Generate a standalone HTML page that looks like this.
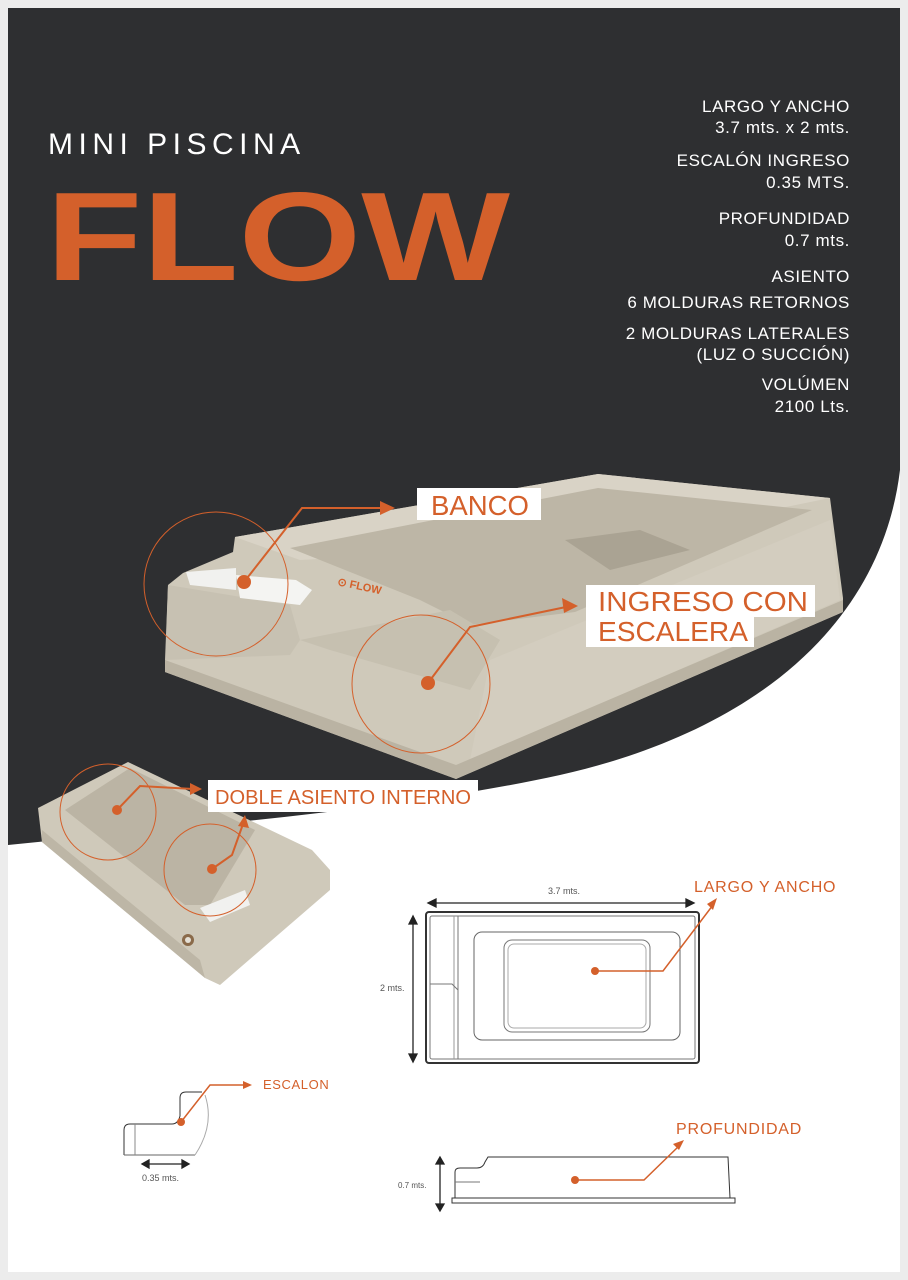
<!DOCTYPE html>
<html><head><meta charset="utf-8"><style>
html,body{margin:0;padding:0;background:#ededed;}
svg{display:block;}
text{font-family:"Liberation Sans",sans-serif;}
</style></head><body>
<svg width="908" height="1280" viewBox="0 0 908 1280" xmlns="http://www.w3.org/2000/svg">
<rect x="0" y="0" width="908" height="1280" fill="#ececec"/>
<rect x="8" y="8" width="892" height="1264" fill="#ffffff"/>
<path d="M8,8 H900 V470 C882,620 760,730 560,775 C400,810 200,825 8,845 Z" fill="#2e2f31"/>

<!-- Title -->
<text x="48" y="154" fill="#ffffff" font-size="30" letter-spacing="5.5">MINI PISCINA</text>
<text x="46" y="280" fill="#d4602b" font-size="140" font-weight="bold" textLength="464" lengthAdjust="spacingAndGlyphs" transform="translate(0 280) scale(1 0.9) translate(0 -280)">FLOW</text>

<!-- Specs -->
<g fill="#ffffff" font-size="17" text-anchor="end" letter-spacing="0.6">
<text x="850" y="112">LARGO Y ANCHO</text>
<text x="850" y="133">3.7 mts. x 2 mts.</text>
<text x="850" y="166">ESCALÓN INGRESO</text>
<text x="850" y="188">0.35 MTS.</text>
<text x="850" y="224">PROFUNDIDAD</text>
<text x="850" y="246">0.7 mts.</text>
<text x="850" y="282">ASIENTO</text>
<text x="850" y="308">6 MOLDURAS RETORNOS</text>
<text x="850" y="339">2 MOLDURAS LATERALES</text>
<text x="850" y="360">(LUZ O SUCCIÓN)</text>
<text x="850" y="390">VOLÚMEN</text>
<text x="850" y="412">2100 Lts.</text>
</g>

<!-- Main pool -->
<polygon points="235,537 598,474 830,498 843,598 843,612 456,779 165,672 168,585 183,573 233,552" fill="#cfc9ba"/>
<polygon points="235,537 598,474 830,498 600,545 300,560" fill="#d9d3c6"/>
<polygon points="290,548 598,488 812,510 575,612 470,625 420,600" fill="#bdb6a6"/>
<polygon points="565,540 640,530 690,550 610,570" fill="#aaa393"/>
<polygon points="490,660 830,520 840,600 470,760" fill="#d3cdbf"/>
<polygon points="300,640 450,610 500,640 470,690 330,650" fill="#c6c0b0"/>
<polygon points="165,660 456,765 843,600 843,612 456,779 165,672" fill="#bab3a3"/>
<polygon points="168,585 290,605 300,640 290,655 165,660" fill="#c7c1b2"/>
<polygon points="186,572 236,568 236,590 190,585" fill="#f1f1ef"/>
<polygon points="236,575 296,580 312,590 300,605 240,598" fill="#f4f4f2"/>
<text x="337" y="585" fill="#d4602b" font-size="11" font-weight="bold" transform="rotate(12 337 585)">⊙ FLOW</text>
<circle cx="216" cy="584" r="72" fill="none" stroke="#d4602b" stroke-width="1"/>
<circle cx="421" cy="684" r="69" fill="none" stroke="#d4602b" stroke-width="1"/>
<g stroke="#d4602b" stroke-width="2" fill="none">
<polyline points="244,582 302,508 383,508"/>
<polyline points="428,683 470,627 566,607"/>
</g>
<g fill="#d4602b">
<circle cx="244" cy="582" r="7"/><circle cx="428" cy="683" r="7"/>
<polygon points="395,508 380,501 380,515"/>
<polygon points="578,606 562,598 564,613"/>
</g>
<rect x="417" y="488" width="124" height="32" fill="#fff"/>
<text x="431" y="515" fill="#d4602b" font-size="28" textLength="98" lengthAdjust="spacingAndGlyphs">BANCO</text>
<rect x="586" y="585" width="229" height="32" fill="#fff"/>
<rect x="586" y="615" width="168" height="32" fill="#fff"/>
<text x="598" y="611" fill="#d4602b" font-size="28" textLength="210" lengthAdjust="spacingAndGlyphs">INGRESO CON</text>
<text x="598" y="641" fill="#d4602b" font-size="28" textLength="150" lengthAdjust="spacingAndGlyphs">ESCALERA</text>

<!-- Small pool -->
<polygon points="38,808 128,762 312,850 330,870 330,890 220,985 205,978 42,842" fill="#cfc9ba"/>
<polygon points="65,810 130,768 255,830 210,905 185,905" fill="#bbb4a4"/>
<polygon points="42,830 200,960 205,978 42,842" fill="#bdb6a6"/>
<polygon points="200,908 245,890 250,905 210,922" fill="#f1f1ef"/>
<circle cx="188" cy="940" r="6" fill="#8a6a4a"/><circle cx="188" cy="940" r="3" fill="#e5e0d6"/>
<circle cx="108" cy="812" r="48" fill="none" stroke="#d4602b" stroke-width="1"/>
<circle cx="210" cy="870" r="46" fill="none" stroke="#d4602b" stroke-width="1"/>
<g stroke="#d4602b" stroke-width="2" fill="none">
<polyline points="117,810 140,786 193,789"/>
<polyline points="212,869 232,855 243,824"/>
</g>
<g fill="#d4602b">
<circle cx="117" cy="810" r="5"/><circle cx="212" cy="869" r="5"/>
<polygon points="202,789 190,783 190,795"/>
<polygon points="245,815 238,826 249,828"/>
</g>
<rect x="208" y="780" width="270" height="32" fill="#fff"/>
<text x="215" y="804" fill="#d4602b" font-size="20" textLength="256" lengthAdjust="spacingAndGlyphs">DOBLE ASIENTO INTERNO</text>

<!-- Top view drawing -->
<g stroke="#333" fill="none" stroke-width="1">
<rect x="426" y="912" width="273" height="151" rx="3" stroke-width="2"/>
<rect x="430" y="916" width="265" height="143" rx="2" stroke="#777"/>
<line x1="458" y1="916" x2="458" y2="1059" stroke="#777"/>
<line x1="454" y1="916" x2="454" y2="1059" stroke="#999"/>
<path d="M430,984 H452 L458,990" stroke="#777"/>
<rect x="474" y="932" width="206" height="108" rx="8" stroke="#666"/>
<rect x="504" y="940" width="146" height="92" rx="8" stroke="#777"/>
<rect x="508" y="944" width="138" height="84" rx="6" stroke="#aaa"/>
</g>
<g stroke="#222" stroke-width="1.3" fill="#222">
<line x1="430" y1="903" x2="692" y2="903"/>
<polygon points="428,903 436,899 436,907"/><polygon points="694,903 686,899 686,907"/>
<line x1="413" y1="918" x2="413" y2="1060"/>
<polygon points="413,916 409,924 417,924"/><polygon points="413,1062 409,1054 417,1054"/>
</g>
<text x="548" y="894" fill="#555" font-size="9">3.7 mts.</text>
<text x="380" y="991" fill="#555" font-size="9">2 mts.</text>
<g stroke="#d4602b" stroke-width="1.5" fill="none"><polyline points="595,971 663,971 713,905"/></g>
<circle cx="595" cy="971" r="4" fill="#d4602b"/>
<polygon points="717,898 707,904 713,910" fill="#d4602b"/>
<text x="694" y="892" fill="#d4602b" font-size="16" letter-spacing="0.8">LARGO Y ANCHO</text>

<!-- Side view -->
<g stroke="#333" fill="none" stroke-width="1">
<path d="M452,1203 V1198 H735 V1203 Z"/>
<path d="M455,1198 V1172 Q455,1168 460,1168 H477 Q483,1168 485,1162 L488,1157 H728 L730,1198"/>
<line x1="455" y1="1182" x2="480" y2="1182" stroke="#777"/>
</g>
<g stroke="#222" stroke-width="1.3" fill="#222">
<line x1="440" y1="1160" x2="440" y2="1208"/>
<polygon points="440,1157 436,1164 444,1164"/><polygon points="440,1211 436,1204 444,1204"/>
</g>
<text x="398" y="1188" fill="#555" font-size="8">0.7 mts.</text>
<g stroke="#d4602b" stroke-width="1.5" fill="none"><polyline points="575,1180 644,1180 680,1145"/></g>
<circle cx="575" cy="1180" r="4" fill="#d4602b"/>
<polygon points="684,1140 673,1144 679,1150" fill="#d4602b"/>
<text x="676" y="1134" fill="#d4602b" font-size="16" letter-spacing="0.8">PROFUNDIDAD</text>

<!-- Escalon -->
<g stroke="#333" fill="none" stroke-width="1">
<path d="M124,1155 V1130 Q124,1124 130,1124 H172 Q178,1124 180,1116 V1098 Q180,1092 186,1092 H202"/>
<path d="M124,1155 H195" stroke="#666"/>
<line x1="135" y1="1124" x2="135" y2="1155" stroke="#888"/>
<path d="M205,1095 Q215,1125 195,1155" stroke="#aaa"/>
</g>
<g stroke="#d4602b" stroke-width="1.5" fill="none"><polyline points="181,1122 210,1085 245,1085"/></g>
<circle cx="181" cy="1122" r="4" fill="#d4602b"/>
<polygon points="252,1085 243,1081 243,1089" fill="#d4602b"/>
<text x="263" y="1089" fill="#d4602b" font-size="13" letter-spacing="0.6">ESCALON</text>
<g stroke="#222" stroke-width="1.3" fill="#222">
<line x1="145" y1="1164" x2="186" y2="1164"/>
<polygon points="142,1164 149,1160 149,1168"/><polygon points="189,1164 182,1160 182,1168"/>
</g>
<text x="142" y="1181" fill="#555" font-size="9">0.35 mts.</text>
</svg>
</body></html>
